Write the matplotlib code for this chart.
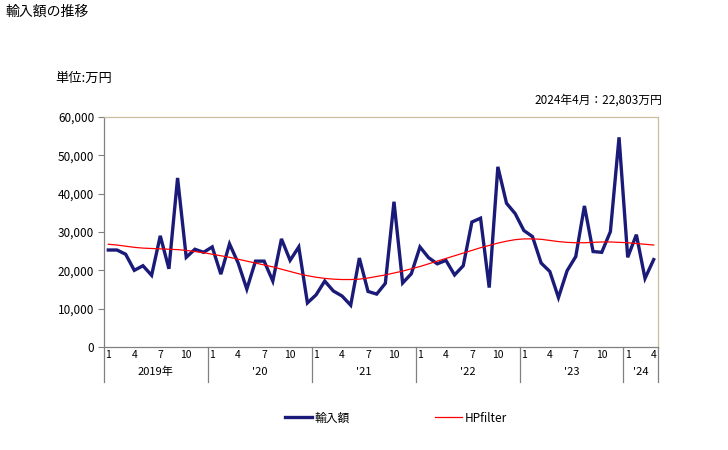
import matplotlib.pyplot as plt
import matplotlib.transforms as mtransforms

plt.rcParams['font.family'] = ['Noto Sans CJK JP', 'DejaVu Sans']

# monthly import values, 2019/1 - 2024/4 (万円)
imports = [
    25300, 25300, 24200, 20000, 21200, 18700, 29000, 20400, 44100, 23400, 25500, 24700,
    26100, 19000, 26900, 21900, 15100, 22400, 22400, 17200, 28200, 22600, 26100, 11500,
    13600, 17200, 14600, 13300, 10900, 23200, 14500, 13800, 16600, 37900, 16700, 19100,
    26100, 23300, 21700, 22600, 18800, 21200, 32600, 33600, 15500, 47000, 37500, 34800,
    30400, 28800, 21900, 19700, 12900, 19900, 23600, 36800, 24900, 24700, 30100, 54700,
    23400, 29300, 17900, 22803,
]
hp_filter = [
    26800, 26600, 26300, 26000, 25800, 25700, 25600, 25500, 25400, 25200, 24900, 24600,
    24200, 23800, 23400, 22900, 22400, 21900, 21400, 20900, 20300, 19700, 19100, 18600,
    18200, 17900, 17700, 17600, 17600, 17700, 18000, 18400, 18800, 19300, 19800, 20400,
    21000, 21700, 22400, 23100, 23800, 24500, 25200, 25900, 26500, 27100, 27600, 28000,
    28200, 28200, 28100, 27800, 27500, 27300, 27200, 27200, 27300, 27400, 27400, 27300,
    27200, 27000, 26800, 26600,
]
years = ['2019年', "'20", "'21", "'22", "'23", "'24"]
month_ticks = ['1', '4', '7', '10']

fig = plt.figure(figsize=(7.28, 4.5), dpi=100)
ax = fig.add_axes([104/728, 1-347/450, 554/728, 230/450])

x = list(range(len(imports)))
ax.plot(x, imports, color='#1a1a78', linewidth=2.4, solid_joinstyle='miter', label='輸入額')
ax.plot(x, hp_filter, color='#ff0000', linewidth=0.9, label='HPfilter')

ax.set_xlim(-0.5, len(imports) - 0.5)
ax.set_ylim(0, 60000)
ax.set_yticks(range(0, 60001, 10000))
ax.set_yticklabels([f'{v:,}' for v in range(0, 60001, 10000)], fontsize=8.5)
ax.tick_params(axis='y', direction='out', length=4, color='#808080', pad=3)

# month labels on x axis
pos, labs = [], []
for i in range(len(imports)):
    m = i % 12 + 1
    if str(m) in month_ticks:
        pos.append(i)
        labs.append(str(m))
ax.set_xticks(pos)
ax.set_xticklabels(labs, fontsize=7.5)
ax.tick_params(axis='x', length=0, pad=2)

# year labels and separators below the axis
trans = mtransforms.blended_transform_factory(ax.transData, ax.transAxes)
sep_depth = -(382 - 347) / 230
n = len(imports)
for k, yl in enumerate(years):
    start = k * 12
    end = min(start + 12, n)
    ax.plot([start - 0.5, start - 0.5], [0, sep_depth], transform=trans,
            color='#808080', linewidth=0.9, clip_on=False)
    ax.text((start + end - 1) / 2, -(372 - 347) / 230, yl, transform=trans,
            ha='center', va='center', fontsize=8)
ax.plot([n - 0.5, n - 0.5], [0, sep_depth], transform=trans,
        color='#808080', linewidth=0.9, clip_on=False)

for s in ['top', 'right']:
    ax.spines[s].set_color('#c8bf9f')
for s in ['left', 'bottom']:
    ax.spines[s].set_color('#808080')
for s in ax.spines.values():
    s.set_linewidth(0.9)

fig.text(5/728, 1-12/450, '輸入額の推移', fontsize=10, va='center', ha='left')
fig.text(55/728, 1-78/450, '単位:万円', fontsize=9.5, va='center', ha='left')
fig.text(662/728, 1-100/450, '2024年4月：22,803万円', fontsize=8.5, va='center', ha='right')

ax.legend(loc='center', bbox_to_anchor=((396 - 104) / 554, -(418 - 347) / 230), ncol=2,
          frameon=False, fontsize=8.5, handlelength=2.3, columnspacing=7.2,
          handletextpad=0.2)

fig.savefig('out.png', dpi=100)
